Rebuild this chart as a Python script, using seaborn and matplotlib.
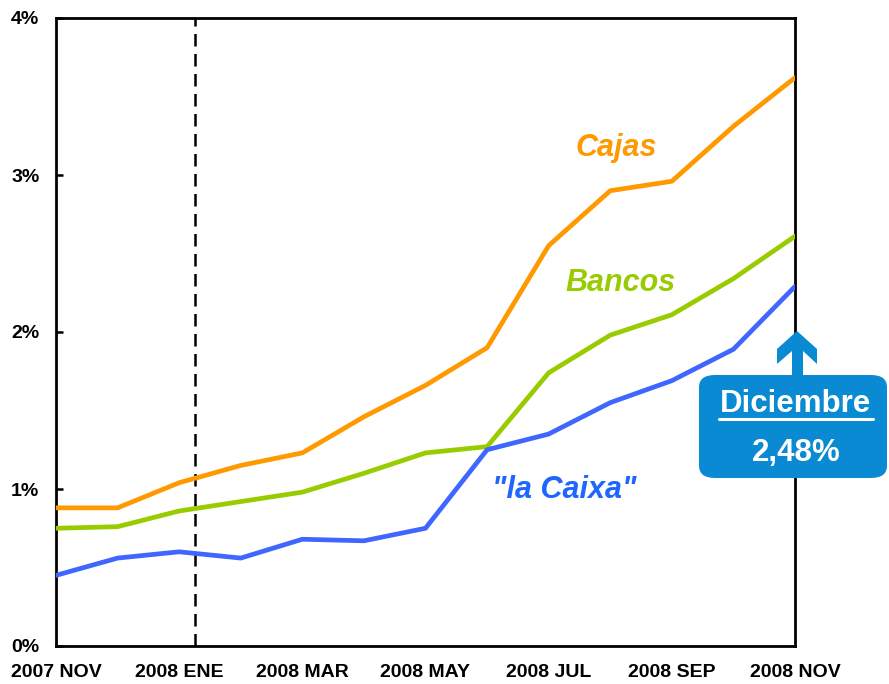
import numpy as np
import pandas as pd
import matplotlib
matplotlib.use("Agg")
import matplotlib.pyplot as plt
from matplotlib.patches import FancyBboxPatch, Polygon
from matplotlib.lines import Line2D
import seaborn as sns

months = ["2007 NOV", "2007 DIC", "2008 ENE", "2008 FEB", "2008 MAR", "2008 ABR", "2008 MAY",
          "2008 JUN", "2008 JUL", "2008 AGO", "2008 SEP", "2008 OCT", "2008 NOV"]
cajas = [0.88, 0.88, 1.04, 1.15, 1.23, 1.46, 1.66, 1.90, 2.55, 2.90, 2.96, 3.31, 3.62]
bancos = [0.75, 0.76, 0.86, 0.92, 0.98, 1.10, 1.23, 1.27, 1.74, 1.98, 2.11, 2.34, 2.61]
lacaixa = [0.45, 0.56, 0.60, 0.56, 0.68, 0.67, 0.75, 1.25, 1.35, 1.55, 1.69, 1.89, 2.29]
series_names = ["Cajas", "Bancos", '"la Caixa"']
colors = {"Cajas": "#FF9900", "Bancos": "#99CC00", '"la Caixa"': "#3F66FF"}
label_colors = {"Cajas": "#FF9900", "Bancos": "#99CC00", '"la Caixa"': "#1F66FF"}
yticks = [0, 1, 2, 3, 4]
ytick_labels = ["0%", "1%", "2%", "3%", "4%"]
xtick_idx = [0, 2, 4, 6, 8, 10, 12]
dashed_x = 2.25
callout_title = "Diciembre"
callout_value = "2,48%"

sns.set_style("white")
plt.rcParams["font.family"] = ["Liberation Sans", "DejaVu Sans"]
plt.rcParams["text.color"] = "black"
plt.rcParams["xtick.color"] = "black"
plt.rcParams["ytick.color"] = "black"

W, H = 889, 684
fig = plt.figure(figsize=(W / 100, H / 100), dpi=100)
ax = fig.add_axes([56 / W, (H - 646) / H, 739 / W, 628 / H])

df = pd.DataFrame({
    "idx": list(range(len(months))) * 3,
    "value": cajas + bancos + lacaixa,
    "serie": sum([[s] * len(months) for s in series_names], []),
})
sns.lineplot(data=df, x="idx", y="value", hue="serie", palette=colors,
             linewidth=3.4, ax=ax, legend=False, zorder=3)
for line in ax.lines:
    line.set_solid_capstyle("round")

ax.axvline(dashed_x, color="black", lw=1.8, ls=(0, (5, 3)), zorder=2)

ax.set_xlim(0, 12)
ax.set_ylim(0, 4)
ax.set_xticks(xtick_idx)
ax.set_xticklabels([months[i] for i in xtick_idx], fontsize=14, fontweight="bold", color="black")
ax.set_yticks(yticks)
ax.set_yticklabels(ytick_labels, fontsize=14, fontweight="bold", color="black")
ax.tick_params(axis="x", length=0, pad=13, colors="black")
ax.tick_params(axis="y", direction="in", length=5, width=1.8, pad=12, left=True, colors="black")
ax.set_xlabel("")
ax.set_ylabel("")
for sp in ax.spines.values():
    sp.set_color("black")
    sp.set_linewidth(2.0)
    sp.set_visible(True)


def fig_xy(px, py):
    return px / W, (H - py) / H


for t, (px, py) in zip(series_names, [(616, 148), (621, 283), (564, 490)]):
    fx, fy = fig_xy(px, py)
    fig.text(fx, fy, t, fontsize=22, fontweight="bold", style="italic",
             color=label_colors[t], ha="center", va="center")

# callout
box_color = "#0A8AD2"
bx0, by0 = fig_xy(699, 478)
bx1, by1 = fig_xy(887, 375)
box = FancyBboxPatch((bx0, by0), bx1 - bx0, by1 - by0,
                     boxstyle="round,pad=0,rounding_size=0.018",
                     transform=fig.transFigure, facecolor=box_color, edgecolor="none", zorder=5)
fig.patches.append(box)
arrow_px = [(797, 331), (817, 349), (817, 364), (803, 351), (803, 376),
            (792, 376), (792, 351), (777, 364), (777, 349)]
arrow = Polygon([fig_xy(x, y) for x, y in arrow_px], closed=True,
                transform=fig.transFigure, facecolor=box_color, edgecolor="none", zorder=6)
fig.patches.append(arrow)
tx, ty = fig_xy(796, 404)
fig.text(tx, ty, callout_title, fontsize=22.5, fontweight="bold", color="white",
         ha="center", va="center", zorder=7)
ux0, uy = fig_xy(719, 419)
ux1, _ = fig_xy(873, 419)
fig.lines.append(Line2D([ux0, ux1], [uy, uy], transform=fig.transFigure,
                        color="white", lw=2.2, zorder=7))
vx, vy = fig_xy(796, 453)
fig.text(vx, vy, callout_value, fontsize=22.5, fontweight="bold", color="white",
         ha="center", va="center", zorder=7)

fig.savefig("out.png", dpi=100)
